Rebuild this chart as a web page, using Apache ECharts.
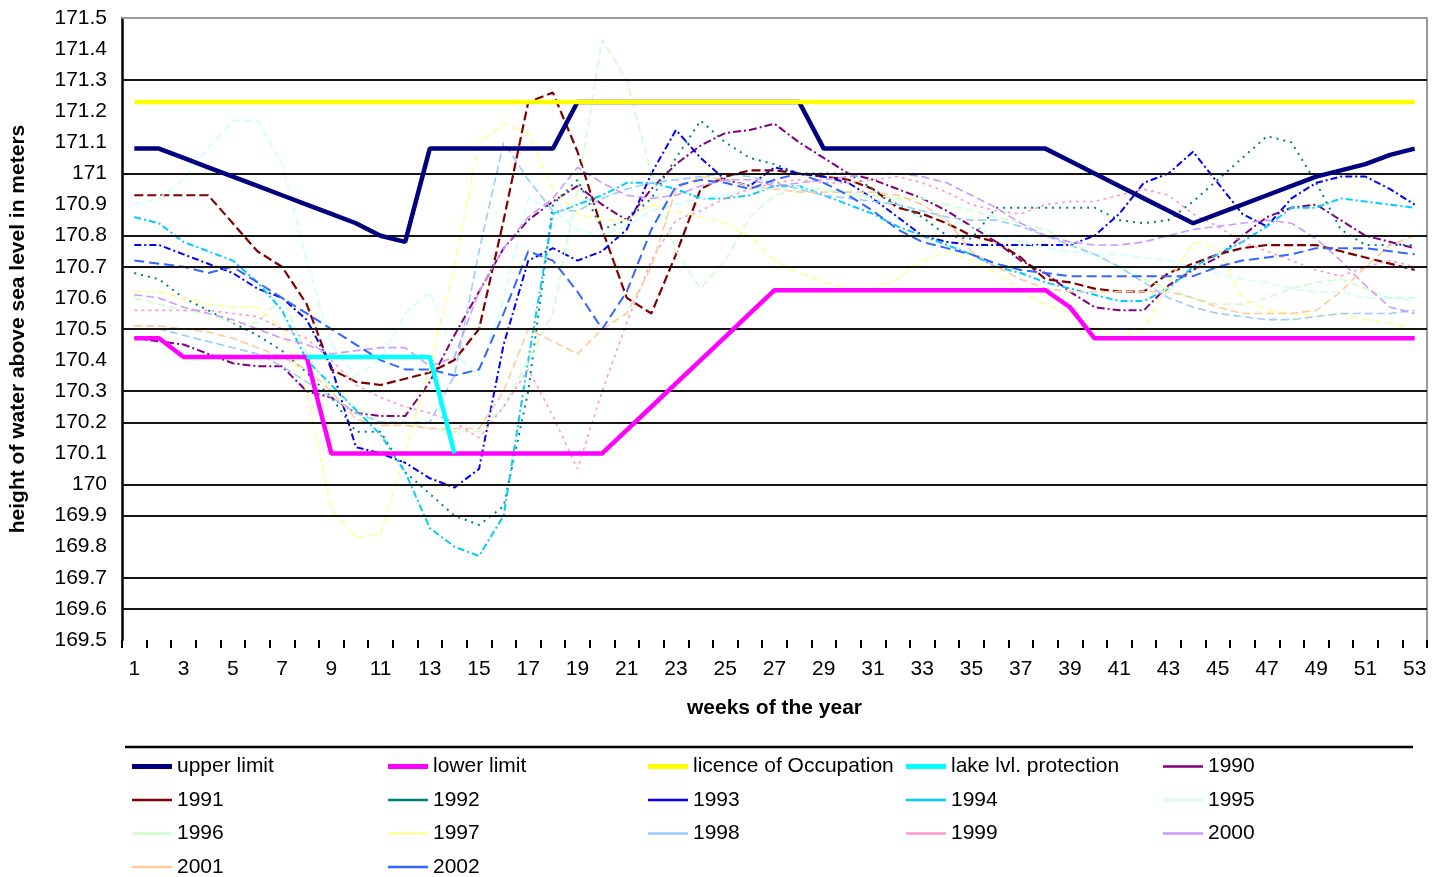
<!DOCTYPE html>
<html>
<head>
<meta charset="utf-8">
<title>Lake water level by week</title>
<script src="https://cdn.jsdelivr.net/npm/echarts@6/dist/echarts.min.js"></script>
<style>
  html, body { margin: 0; padding: 0; background: #fff; }
  #chart { width: 1442px; height: 877px; }
</style>
</head>
<body>
<div id="chart"></div>
<script>
// Weeks of the year (x categories)
const weeks = Array.from({ length: 53 }, (_, i) => String(i + 1));

// Regulation lines (m above sea level)
const upperLimit = [171.08,171.08,171.05,171.02,170.99,170.96,170.93,170.90,170.87,170.84,170.80,170.78,
  171.08,171.08,171.08,171.08,171.08,171.08,
  171.23,171.23,171.23,171.23,171.23,171.23,171.23,171.23,171.23,171.23,
  171.08,171.08,171.08,171.08,171.08,171.08,171.08,171.08,171.08,171.08,
  171.04,171.00,170.96,170.92,170.88,170.84,170.87,170.90,170.93,170.96,170.99,171.01,171.03,171.06,171.08];
const lowerLimit = [170.47,170.47,170.41,170.41,170.41,170.41,170.41,170.41,
  170.10,170.10,170.10,170.10,170.10,170.10,170.10,170.10,170.10,170.10,170.10,170.10,
  170.175,170.25,170.325,170.40,170.475,170.55,170.625,
  170.625,170.625,170.625,170.625,170.625,170.625,170.625,170.625,170.625,170.625,170.625,
  170.57,170.47,170.47,170.47,170.47,170.47,170.47,170.47,170.47,170.47,170.47,170.47,170.47,170.47,170.47];
const licence = Array(53).fill(171.23);
const lakeProtection = [null,null,null,null,null,null,null,
  170.41,170.41,170.41,170.41,170.41,170.41,170.10,
  null,null,null,null,null,null,null,null,null,null,null,null,null,null,null,null,null,null,null,null,null,null,
  null,null,null,null,null,null,null,null,null,null,null,null,null,null,null,null,null];

// Observed weekly water levels per year
const y1990 = [170.47,170.46,170.45,170.42,170.39,170.38,170.38,170.30,170.28,170.23,
  170.22,170.22,170.33,170.48,170.62,170.76,170.85,170.91,170.96,170.90,
  170.85,170.95,171.03,171.09,171.13,171.14,171.16,171.10,171.05,171.00,
  170.98,170.95,170.92,170.88,170.83,170.78,170.72,170.68,170.62,170.57,
  170.56,170.56,170.64,170.69,170.73,170.80,170.86,170.89,170.90,170.85,
  170.80,170.78,170.76];
const y1991 = [170.93,170.93,170.93,170.93,170.84,170.75,170.70,170.58,170.37,170.33,
  170.32,170.34,170.36,170.40,170.50,170.85,171.23,171.26,171.07,170.82,
  170.60,170.55,170.74,170.95,170.99,171.01,171.01,171.00,170.99,170.98,
  170.95,170.89,170.87,170.84,170.80,170.78,170.73,170.66,170.65,170.63,
  170.62,170.62,170.68,170.71,170.74,170.76,170.77,170.77,170.77,170.75,
  170.73,170.71,170.69];
const y1992 = [170.68,170.66,170.60,170.56,170.52,170.48,170.43,170.36,170.28,170.17,
  170.17,170.04,169.97,169.90,169.87,169.93,170.30,170.90,170.98,170.82,
  170.85,170.92,171.05,171.17,171.10,171.05,171.03,171.00,171.00,171.00,
  170.95,170.90,170.86,170.80,170.79,170.89,170.89,170.89,170.89,170.89,
  170.85,170.84,170.85,170.91,170.98,171.05,171.12,171.10,170.97,170.82,
  170.77,170.77,170.77];
const y1993 = [170.77,170.77,170.74,170.71,170.68,170.63,170.60,170.53,170.38,170.12,
  170.10,170.07,170.02,169.99,170.05,170.45,170.72,170.76,170.72,170.75,
  170.82,171.00,171.14,171.05,170.98,170.96,171.02,171.00,170.99,170.97,
  170.92,170.86,170.80,170.78,170.77,170.77,170.77,170.77,170.77,170.80,
  170.87,170.97,171.00,171.07,170.97,170.87,170.83,170.92,170.97,170.99,
  170.99,170.95,170.90];
const y1994 = [170.86,170.84,170.78,170.75,170.72,170.65,170.56,170.40,170.32,170.24,
  170.16,170.04,169.86,169.80,169.77,169.90,170.40,170.87,170.90,170.93,
  170.97,170.97,170.95,170.92,170.92,170.93,170.96,170.96,170.93,170.90,
  170.87,170.83,170.80,170.77,170.74,170.70,170.68,170.65,170.63,170.61,
  170.59,170.59,170.63,170.70,170.74,170.78,170.83,170.89,170.89,170.92,
  170.91,170.90,170.89];
const y1995 = [170.90,170.92,170.98,171.08,171.17,171.17,171.03,170.72,170.45,170.35,
  170.40,170.55,170.62,170.42,170.35,170.60,170.92,170.88,170.82,170.80,
  170.83,170.88,170.90,170.92,170.93,170.95,170.95,170.96,170.95,170.94,
  170.92,170.90,170.88,170.85,170.83,170.80,170.78,170.76,170.75,170.74,
  170.74,170.73,170.72,170.70,170.68,170.66,170.65,170.63,170.62,170.62,
  170.60,170.60,170.59];
const y1996 = [170.60,170.58,170.56,170.55,170.52,170.52,170.60,170.42,170.30,170.25,
  170.20,170.20,170.18,170.17,170.17,170.25,170.40,170.55,170.95,171.43,
  171.30,171.00,170.75,170.63,170.72,170.86,170.93,170.95,170.95,170.93,
  170.93,170.92,170.92,170.90,170.88,170.86,170.84,170.82,170.78,170.74,
  170.70,170.66,170.63,170.60,170.58,170.58,170.60,170.63,170.65,170.66,
  170.63,170.60,170.60];
const y1997 = [170.62,170.62,170.60,170.58,170.57,170.57,170.50,170.30,169.92,169.83,
  169.84,170.10,170.38,170.70,171.10,171.16,171.13,170.95,170.87,170.85,
  170.85,170.90,170.88,170.86,170.84,170.80,170.72,170.68,170.65,170.63,
  170.63,170.66,170.72,170.75,170.72,170.68,170.62,170.58,170.55,170.50,
  170.47,170.50,170.65,170.78,170.76,170.60,170.56,170.55,170.54,170.55,
  170.53,170.52,170.50];
const y1998 = [170.50,170.50,170.48,170.46,170.44,170.42,170.38,170.33,170.28,170.23,
  170.20,170.20,170.20,170.35,170.75,171.10,170.98,170.88,170.88,170.92,
  170.95,170.97,170.98,170.99,171.00,170.99,170.97,170.95,170.93,170.92,
  170.91,170.90,170.88,170.86,170.85,170.85,170.83,170.80,170.77,170.74,
  170.70,170.65,170.60,170.57,170.55,170.54,170.53,170.53,170.54,170.55,
  170.55,170.55,170.56];
const y1999 = [170.56,170.56,170.56,170.56,170.55,170.54,170.50,170.47,170.40,170.32,
  170.28,170.25,170.23,170.20,170.15,170.25,170.37,170.22,170.05,170.30,
  170.52,170.72,170.85,170.88,170.92,170.95,170.97,170.98,170.97,170.97,
  170.98,170.99,170.97,170.94,170.90,170.88,170.87,170.90,170.91,170.91,
  170.93,170.95,170.93,170.87,170.83,170.78,170.75,170.72,170.69,170.67,
  170.70,170.72,170.70];
const y2000 = [170.61,170.60,170.57,170.55,170.53,170.50,170.47,170.45,170.42,170.43,
  170.44,170.44,170.38,170.41,170.62,170.76,170.86,170.92,171.02,170.97,
  170.93,170.92,170.93,170.96,170.98,170.98,170.96,170.97,170.98,170.99,
  171.00,171.00,170.99,170.97,170.93,170.89,170.84,170.80,170.78,170.77,
  170.77,170.78,170.80,170.82,170.83,170.84,170.85,170.84,170.79,170.72,
  170.64,170.57,170.55];
const y2001 = [170.51,170.51,170.50,170.49,170.47,170.44,170.41,170.37,170.30,170.21,
  170.19,170.19,170.18,170.18,170.18,170.30,170.50,170.46,170.42,170.50,
  170.55,170.70,170.95,170.99,170.98,170.96,170.95,170.94,170.94,170.94,
  170.94,170.93,170.90,170.85,170.75,170.70,170.66,170.63,170.62,170.62,
  170.62,170.62,170.62,170.60,170.57,170.55,170.55,170.55,170.56,170.62,
  170.70,170.77,170.80];
const y2002 = [170.72,170.71,170.70,170.68,170.70,170.65,170.60,170.55,170.50,170.45,
  170.40,170.37,170.37,170.35,170.37,170.55,170.75,170.72,170.62,170.50,
  170.62,170.82,170.96,170.98,170.97,170.95,170.98,171.00,170.97,170.93,
  170.88,170.82,170.78,170.76,170.74,170.71,170.69,170.68,170.67,170.67,
  170.67,170.67,170.67,170.67,170.70,170.72,170.73,170.74,170.76,170.76,
  170.76,170.75,170.74];

// Horizontal rule levels drawn across the plot
const gridLevels = [171.3, 171.0, 170.8, 170.7, 170.5, 170.3, 170.2, 170.0, 169.9, 169.7, 169.6];

const FONT = '"Liberation Sans", Arial, sans-serif';

// Legend keys: a horizontal bar inside a 40x12 box (the extra move-to points fix the box size)
const THICK_KEY = 'path://M0,0 M40,12 M0,3.5 L40,3.5 L40,8.5 L0,8.5 Z';
const THIN_KEY = 'path://M0,0 M40,12 M0,4.75 L40,4.75 L40,7.25 L0,7.25 Z';

function limitSeries(name, data, color, z) {
  return { name, type: 'line', data, symbol: 'none', showSymbol: false, color,
    itemStyle: { color }, lineStyle: { color, width: 4.5, type: 'solid' }, z };
}
function yearSeries(name, data, color, width, dash) {
  return { name, type: 'line', data, symbol: 'none', showSymbol: false, color,
    itemStyle: { color }, lineStyle: { color, width, type: dash }, z: 4 };
}

const series = [
  {
    name: 'rules', type: 'line', data: [], symbol: 'none', silent: true, z: 1,
    markLine: {
      silent: true, symbol: 'none', label: { show: false }, animation: false,
      lineStyle: { color: '#151515', width: 2.2, type: 'solid' },
      data: gridLevels.map(v => ({ yAxis: v }))
        .concat([{ yAxis: 171.5, lineStyle: { color: '#9a9a9a', width: 2 } }])
    }
  },
  limitSeries('upper limit', upperLimit, '#000080', 5),
  limitSeries('lower limit', lowerLimit, '#FF00FF', 5),
  limitSeries('licence of Occupation', licence, '#FFFF00', 6),
  limitSeries('lake lvl. protection', lakeProtection, '#00FFFF', 5),
  yearSeries('1990', y1990, '#800080', 2, [8, 3, 2, 3]),
  yearSeries('1991', y1991, '#800000', 2.2, [9, 4]),
  yearSeries('1992', y1992, '#008080', 2, [2, 5]),
  yearSeries('1993', y1993, '#0000FF', 2, [7, 3, 2, 3]),
  yearSeries('1994', y1994, '#00CCFF', 2, [7, 3, 2, 3]),
  yearSeries('1995', y1995, '#CCFFFF', 1.6, [8, 4]),
  yearSeries('1996', y1996, '#CCFFCC', 1.6, [8, 4]),
  yearSeries('1997', y1997, '#FFFF99', 1.6, [8, 4]),
  yearSeries('1998', y1998, '#99CCFF', 1.6, [8, 4]),
  yearSeries('1999', y1999, '#FF99CC', 1.6, [3, 4]),
  yearSeries('2000', y2000, '#CC99FF', 1.6, [8, 4]),
  yearSeries('2001', y2001, '#FFCC99', 1.6, [8, 4]),
  yearSeries('2002', y2002, '#3366FF', 2, [10, 5])
];

// Legend laid out as a five-column table, filled row by row
const limitNames = ['upper limit', 'lower limit', 'licence of Occupation', 'lake lvl. protection'];
const keyed = series.filter(s => s.name !== 'rules');
const columnLefts = [132, 388, 648, 906, 1163];
const legends = columnLefts.map((left, col) => ({
  data: keyed.filter((s, i) => i % 5 === col).map(s => ({
    name: s.name,
    icon: limitNames.includes(s.name) ? THICK_KEY : THIN_KEY,
    itemStyle: { color: s.color, borderWidth: 0 }
  })),
  orient: 'vertical',
  left, top: 756, height: 150, padding: 0,
  itemWidth: 40, itemHeight: 12, itemGap: 12.5,
  selectedMode: false,
  textStyle: { fontFamily: FONT, fontSize: 21, color: '#000' }
}));

const chart = echarts.init(document.getElementById('chart'), null, { renderer: 'canvas' });
chart.setOption({
  animation: false,
  backgroundColor: '#ffffff',
  textStyle: { fontFamily: FONT, color: '#000' },
  grid: { left: 111, right: 15, top: 18, bottom: 237, containLabel: false },
  xAxis: {
    type: 'category',
    data: weeks,
    boundaryGap: true,
    name: 'weeks of the year',
    nameLocation: 'middle',
    nameGap: 58,
    nameTextStyle: { fontFamily: FONT, fontSize: 21, fontWeight: 'bold', color: '#000' },
    axisLine: { show: false },
    axisTick: { show: true, interval: 0, length: 8, lineStyle: { color: '#000', width: 2 } },
    axisLabel: { interval: 1, fontFamily: FONT, fontSize: 21, color: '#000', margin: 19 },
    splitLine: { show: false }
  },
  yAxis: [
    {
      type: 'value',
      min: 169.5, max: 171.5, interval: 0.1,
      name: 'height of water above sea level in meters',
      nameLocation: 'middle',
      nameGap: 93,
      nameRotate: 90,
      nameTextStyle: { fontFamily: FONT, fontSize: 21, fontWeight: 'bold', color: '#000' },
      axisLine: { show: true, lineStyle: { color: '#000', width: 2.5 } },
      axisTick: { show: false },
      axisLabel: {
        fontFamily: FONT, fontSize: 21, color: '#000', margin: 15,
        formatter: v => String(Math.round(v * 10) / 10)
      },
      splitLine: { show: false }
    },
    {
      type: 'value', position: 'right',
      min: 169.5, max: 171.5, interval: 0.1,
      axisLine: { show: true, lineStyle: { color: '#9a9a9a', width: 2 } },
      axisTick: { show: false }, axisLabel: { show: false }, splitLine: { show: false }
    }
  ],
  legend: legends,
  graphic: [
    { type: 'line', shape: { x1: 125, y1: 747, x2: 1413, y2: 747 },
      style: { stroke: '#000', lineWidth: 2.5 }, silent: true }
  ],
  series
});
</script>
</body>
</html>
